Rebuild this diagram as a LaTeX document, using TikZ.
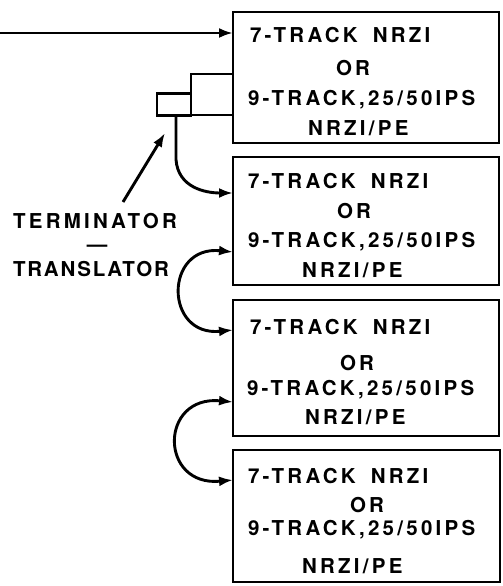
\documentclass[tikz,border=0pt]{standalone}
\usepackage{fontspec}
\newfontfamily\lettr{TeX Gyre Heros}[LetterSpace=16,BoldFont={TeX Gyre Heros Bold}]
\usetikzlibrary{calc,arrows.meta}
\newcommand{\wsp}{\hspace{15pt}}
\begin{document}
\begin{tikzpicture}[x=1pt,y=-1pt,line width=2.9pt,
  unitbox/.style={draw,rectangle,minimum width=266pt,inner sep=0pt,outer sep=0pt},
  termbox/.style={draw,rectangle,inner sep=0pt,outer sep=0pt},
  txt/.style={anchor=base west,inner sep=0pt,outer sep=0pt,font=\lettr\bfseries\fontsize{20.5}{21}\selectfont},
  conn/.style={-{Latex[length=14pt,width=10pt]},line width=2.9pt},
  conn2/.style={{Latex[length=14pt,width=10pt]}-{Latex[length=14pt,width=10pt]},line width=2.9pt}]
\useasboundingbox (0,0) rectangle (503,586);

% tape units
\node[unitbox,minimum height=131pt] (b1) at (366,77.5) {};
\node[unitbox,minimum height=128pt] (b2) at (366,221) {};
\node[unitbox,minimum height=136pt] (b3) at (366,368) {};
\node[unitbox,minimum width=267pt,minimum height=132pt] (b4) at (366.5,516) {};

% texts box 1
\node[txt] (t11) at (250,43) {7-TRACK\wsp NRZI};
\node[txt] (t12) at (336,75) {OR};
\node[txt] (t13) at (248,105) {9-TRACK,25/50IPS};
\node[txt] (t14) at (308,135) {NRZI/PE};
% box 2
\node[txt] (t21) at (248,188) {7-TRACK\wsp NRZI};
\node[txt] (t22) at (337,218) {OR};
\node[txt] (t23) at (248,247) {9-TRACK,25/50IPS};
\node[txt] (t24) at (302,277) {NRZI/PE};
% box 3
\node[txt] (t31) at (250,334) {7-TRACK\wsp NRZI};
\node[txt] (t32) at (340,370) {OR};
\node[txt] (t33) at (247,395) {9-TRACK,25/50IPS};
\node[txt] (t34) at (305,424) {NRZI/PE};
% box 4
\node[txt] (t41) at (248,483) {7-TRACK\wsp NRZI};
\node[txt] (t42) at (350,512) {OR};
\node[txt] (t43) at (248,535) {9-TRACK,25/50IPS};
\node[txt] (t44) at (302,573) {NRZI/PE};

% terminator / translator
\node[termbox,minimum width=42pt,minimum height=41pt] (term1) at (212,94.5) {};
\node[termbox,minimum width=34pt,minimum height=22pt] (term2) at (174,104.5) {};

% labels
\node[txt] (lab1) at (13,228) {TERMINATOR};
\node[txt,anchor=base] (lab2) at (97,251) {—};
\node[txt] (lab3) at (13,276) {\addfontfeature{LetterSpace=9}TRANSLATOR};

% connectors
\coordinate (src) at (0,33);
\draw[conn] (src) -- ($(b1.north west)+(0,21)$);
\draw[conn] ([xshift=2pt]term2.south) -- ++(0,44)
  .. controls +(2,28) and +(-28,0) .. ($(b2.north west)+(0,36)$);
\draw[conn2]
  ($(b2.north west)+(0,95)$) .. controls (164,245) and (164,337) .. ($(b3.north west)+(0,30)$);
\draw[conn2]
  ($(b3.north west)+(0,102)$) .. controls (159,395) and (159,487) .. ($(b4.north west)+(0,30)$);
\coordinate (ptail) at (123,202);
\coordinate (ptip) at (165,133);
\draw[conn] (ptail) -- (ptip);
\end{tikzpicture}
\end{document}
